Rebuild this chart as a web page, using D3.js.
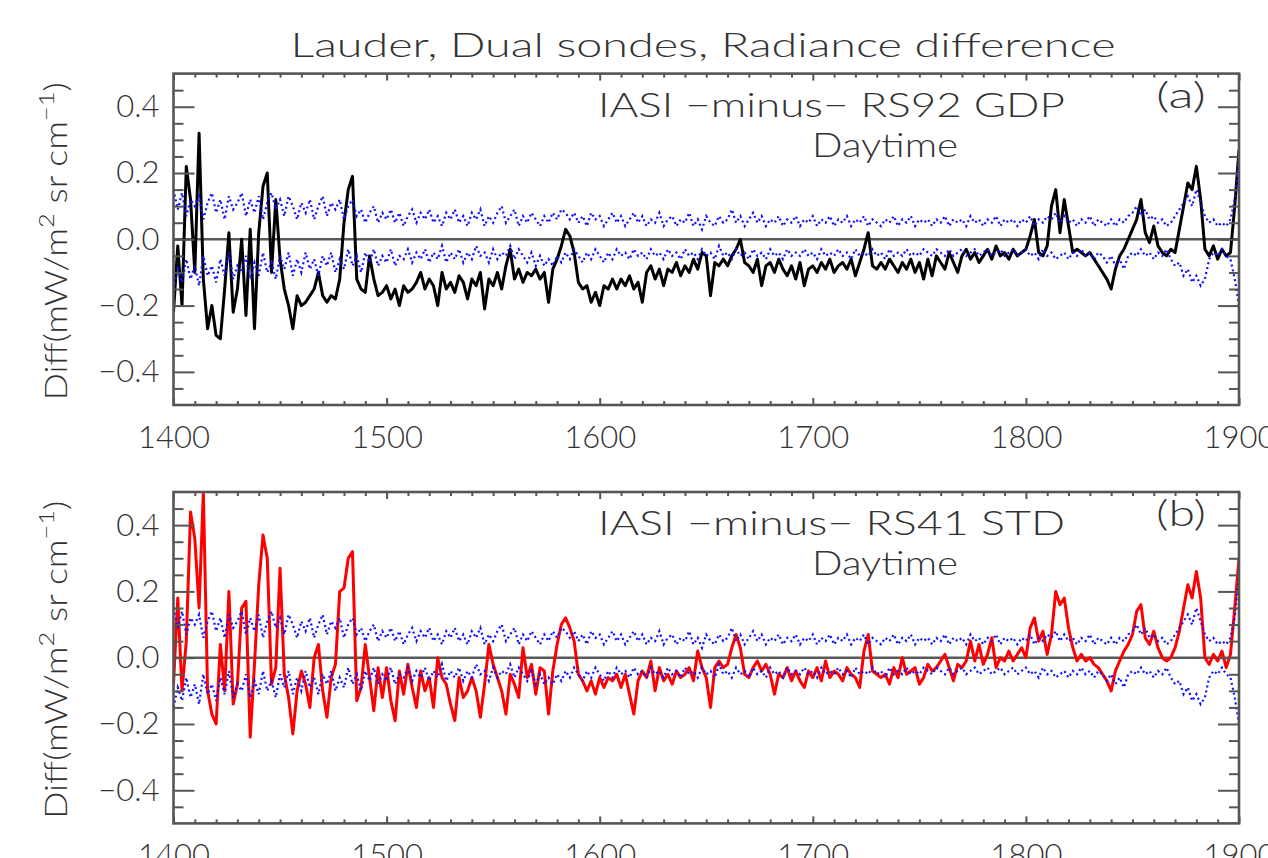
<!DOCTYPE html>
<html>
<head>
<meta charset="utf-8">
<script src="https://cdn.jsdelivr.net/npm/d3@7"></script>
<style>
  body { margin: 0; background: #fff; }
  svg text { font-family: "Lato", "DejaVu Sans", sans-serif; font-weight: 300; fill: #333; }
</style>
</head>
<body>
<div id="chart"></div>
<script>
// wavenumber grid (cm-1)
var wnStart = 1400, wnEnd = 1900;
var lineStep = 2;   // spacing of every series below
var xTicks = [1400, 1500, 1600, 1700, 1800, 1900];
var yTicks = [-0.4, -0.2, 0.0, 0.2, 0.4];
var titleText = "Lauder, Dual sondes, Radiance difference";

// IASI minus RS92 GDP, 1400..1900 every 2 cm-1 (one row = 20 cm-1)
var rs92Diff = [
  -0.22, -0.02, -0.20, 0.22, 0.12, -0.10, 0.32, -0.12, -0.27, -0.20,   // 1400
  -0.29, -0.30, -0.15, 0.02, -0.22, -0.15, 0.00, -0.23, 0.03, -0.27,   // 1420
  0.02, 0.16, 0.20, -0.10, 0.12, -0.06, -0.15, -0.20, -0.27, -0.17,    // 1440
  -0.20, -0.19, -0.17, -0.15, -0.10, -0.17, -0.19, -0.17, -0.18, -0.12, // 1460
  0.05, 0.15, 0.19, -0.12, -0.15, -0.16, -0.05, -0.12, -0.17, -0.16,   // 1480
  -0.14, -0.18, -0.15, -0.20, -0.14, -0.16, -0.15, -0.13, -0.10, -0.15, // 1500
  -0.12, -0.14, -0.20, -0.10, -0.15, -0.13, -0.16, -0.11, -0.13, -0.18, // 1520
  -0.12, -0.14, -0.10, -0.21, -0.12, -0.14, -0.10, -0.15, -0.08, -0.03, // 1540
  -0.12, -0.09, -0.13, -0.10, -0.11, -0.09, -0.12, -0.10, -0.19, -0.09, // 1560
  -0.06, -0.02, 0.03, 0.01, -0.04, -0.13, -0.15, -0.14, -0.19, -0.16,  // 1580
  -0.20, -0.14, -0.15, -0.12, -0.15, -0.12, -0.14, -0.11, -0.15, -0.13, // 1600
  -0.19, -0.10, -0.08, -0.12, -0.09, -0.14, -0.09, -0.10, -0.07, -0.11, // 1620
  -0.08, -0.10, -0.06, -0.09, -0.04, -0.05, -0.17, -0.07, -0.08, -0.06, // 1640
  -0.08, -0.05, -0.03, 0.00, -0.07, -0.08, -0.10, -0.06, -0.14, -0.08, // 1660
  -0.07, -0.10, -0.06, -0.09, -0.11, -0.08, -0.12, -0.07, -0.14, -0.09, // 1680
  -0.08, -0.10, -0.07, -0.09, -0.06, -0.10, -0.08, -0.07, -0.09, -0.06, // 1700
  -0.11, -0.07, -0.03, 0.02, -0.08, -0.09, -0.07, -0.09, -0.06, -0.08, // 1720
  -0.10, -0.07, -0.09, -0.06, -0.10, -0.07, -0.12, -0.06, -0.11, -0.05, // 1740
  -0.07, -0.09, -0.04, -0.07, -0.10, -0.05, -0.03, -0.06, -0.04, -0.07, // 1760
  -0.05, -0.03, -0.06, -0.02, -0.05, -0.04, -0.06, -0.03, -0.05, -0.04, // 1780
  -0.03, 0.01, 0.06, -0.04, -0.05, -0.02, 0.10, 0.15, 0.02, 0.12,      // 1800
  0.04, -0.04, -0.03, -0.04, -0.05, -0.04, -0.06, -0.08, -0.10, -0.12, // 1820
  -0.15, -0.09, -0.05, -0.03, 0.00, 0.03, 0.06, 0.12, 0.02, -0.01,     // 1840
  0.04, -0.02, -0.04, -0.05, -0.03, -0.04, 0.03, 0.10, 0.17, 0.15,     // 1860
  0.22, 0.12, -0.03, -0.05, -0.02, -0.06, -0.03, -0.05, -0.04, 0.10,   // 1880
  0.27                                                                 // 1900
];

// IASI minus RS41 STD, same grid
var rs41Diff = [
  -0.08, 0.18, -0.10, 0.05, 0.44, 0.36, 0.15, 0.50, -0.10, -0.17,      // 1400
  -0.20, 0.04, -0.10, 0.20, -0.14, -0.08, 0.15, 0.17, -0.24, -0.02,    // 1420
  0.22, 0.37, 0.30, -0.08, -0.03, 0.27, -0.05, -0.12, -0.23, -0.10,    // 1440
  -0.04, -0.08, -0.15, 0.00, 0.04, -0.10, -0.18, -0.06, -0.02, 0.20,   // 1460
  0.21, 0.30, 0.32, -0.13, -0.09, 0.04, -0.06, -0.16, -0.03, -0.12,    // 1480
  -0.03, -0.13, -0.19, -0.04, -0.11, -0.02, -0.09, -0.15, -0.04, -0.10, // 1500
  -0.06, -0.15, 0.00, -0.06, -0.08, -0.14, -0.19, -0.06, -0.12, -0.10, // 1520
  -0.06, -0.10, -0.18, -0.08, 0.04, -0.02, -0.06, -0.10, -0.17, -0.05, // 1540
  -0.08, -0.12, 0.03, -0.06, -0.02, -0.11, -0.03, -0.04, -0.17, -0.04, // 1560
  0.04, 0.10, 0.12, 0.09, 0.05, -0.05, -0.07, -0.10, -0.07, -0.11,     // 1580
  -0.06, -0.09, -0.06, -0.07, -0.05, -0.09, -0.05, -0.11, -0.17, -0.07, // 1600
  -0.04, -0.06, -0.01, -0.10, -0.03, -0.07, -0.05, -0.08, -0.04, -0.06, // 1620
  -0.05, -0.03, -0.07, 0.02, -0.03, -0.06, -0.15, -0.03, -0.01, -0.03, // 1640
  -0.02, 0.03, 0.07, 0.03, -0.05, -0.06, -0.03, -0.01, -0.04, -0.02,   // 1660
  -0.05, -0.11, -0.05, -0.06, -0.03, -0.07, -0.04, -0.07, -0.09, -0.04, // 1680
  -0.06, -0.03, -0.07, -0.01, -0.06, -0.04, -0.05, -0.07, -0.03, -0.05, // 1700
  -0.06, -0.09, 0.02, 0.07, -0.04, -0.05, -0.06, -0.05, -0.08, -0.03,  // 1720
  -0.06, 0.00, -0.05, -0.04, -0.03, -0.08, -0.06, -0.02, -0.04, -0.03, // 1740
  -0.01, 0.01, -0.03, -0.07, -0.02, -0.03, -0.01, 0.05, -0.01, 0.04,   // 1760
  -0.02, 0.01, 0.06, -0.03, 0.00, -0.01, 0.02, -0.01, 0.01, 0.03,      // 1780
  0.00, 0.09, 0.12, 0.05, 0.08, 0.01, 0.07, 0.20, 0.16, 0.18,          // 1800
  0.09, 0.03, -0.01, 0.01, -0.01, 0.00, -0.02, -0.03, -0.05, -0.07,    // 1820
  -0.10, -0.04, -0.01, 0.02, 0.04, 0.07, 0.14, 0.16, 0.06, 0.04,       // 1840
  0.08, 0.03, 0.00, -0.01, 0.00, 0.03, 0.08, 0.15, 0.22, 0.18,         // 1860
  0.26, 0.18, 0.00, -0.02, 0.01, -0.01, 0.02, -0.03, 0.01, 0.15,       // 1880
  0.30                                                                 // 1900
];

// blue dotted noise envelope, same grid
var bandUpper = [
  0.15, 0.09, 0.14, 0.07, 0.12, 0.10, 0.13, 0.06, 0.11, 0.14,   // 1400
  0.08, 0.12, 0.06, 0.13, 0.09, 0.11, 0.14, 0.07, 0.12, 0.08,   // 1420
  0.13, 0.06, 0.11, 0.14, 0.09, 0.12, 0.07, 0.13, 0.10, 0.06,   // 1440
  0.11, 0.08, 0.12, 0.06, 0.10, 0.13, 0.07, 0.11, 0.09, 0.12,   // 1460
  0.06, 0.10, 0.12, 0.07, 0.09, 0.05, 0.08, 0.10, 0.05, 0.08,   // 1480
  0.06, 0.09, 0.05, 0.08, 0.04, 0.07, 0.09, 0.05, 0.08, 0.06,   // 1500
  0.09, 0.05, 0.07, 0.04, 0.08, 0.06, 0.09, 0.05, 0.07, 0.04,   // 1520
  0.08, 0.06, 0.09, 0.04, 0.07, 0.05, 0.08, 0.10, 0.05, 0.07,   // 1540
  0.09, 0.04, 0.07, 0.05, 0.08, 0.06, 0.04, 0.07, 0.05, 0.08,   // 1560
  0.06, 0.09, 0.08, 0.06, 0.08, 0.05, 0.07, 0.04, 0.08, 0.06,   // 1580
  0.07, 0.04, 0.06, 0.08, 0.05, 0.07, 0.04, 0.06, 0.08, 0.05,   // 1600
  0.07, 0.04, 0.06, 0.05, 0.08, 0.04, 0.06, 0.07, 0.04, 0.06,   // 1620
  0.05, 0.08, 0.04, 0.06, 0.03, 0.07, 0.05, 0.04, 0.07, 0.05,   // 1640
  0.06, 0.09, 0.05, 0.07, 0.04, 0.06, 0.08, 0.05, 0.07, 0.04,   // 1660
  0.06, 0.05, 0.07, 0.04, 0.06, 0.05, 0.07, 0.04, 0.06, 0.05,   // 1680
  0.07, 0.04, 0.06, 0.05, 0.07, 0.04, 0.06, 0.05, 0.07, 0.04,   // 1700
  0.06, 0.05, 0.07, 0.04, 0.06, 0.05, 0.04, 0.06, 0.05, 0.07,   // 1720
  0.04, 0.06, 0.05, 0.07, 0.04, 0.06, 0.05, 0.06, 0.04, 0.06,   // 1740
  0.05, 0.07, 0.04, 0.06, 0.05, 0.06, 0.04, 0.07, 0.05, 0.06,   // 1760
  0.04, 0.06, 0.05, 0.07, 0.04, 0.06, 0.05, 0.06, 0.04, 0.06,   // 1780
  0.05, 0.07, 0.04, 0.06, 0.05, 0.07, 0.06, 0.08, 0.05, 0.07,   // 1800
  0.05, 0.06, 0.04, 0.06, 0.05, 0.07, 0.04, 0.06, 0.05, 0.04,   // 1820
  0.06, 0.04, 0.06, 0.05, 0.07, 0.08, 0.10, 0.07, 0.09, 0.06,   // 1840
  0.07, 0.05, 0.06, 0.04, 0.05, 0.07, 0.09, 0.11, 0.13, 0.10,   // 1860
  0.15, 0.11, 0.07, 0.05, 0.06, 0.04, 0.05, 0.04, 0.06, 0.12,   // 1880
  0.25                                                          // 1900
];
var bandLower = [
  -0.15, -0.09, -0.13, -0.06, -0.12, -0.08, -0.14, -0.05, -0.11, -0.08, // 1400
  -0.13, -0.06, -0.11, -0.04, -0.12, -0.08, -0.10, -0.05, -0.12, -0.07, // 1420
  -0.11, -0.04, -0.10, -0.07, -0.12, -0.05, -0.09, -0.04, -0.11, -0.06, // 1440
  -0.10, -0.04, -0.09, -0.06, -0.11, -0.05, -0.08, -0.04, -0.10, -0.06, // 1460
  -0.09, -0.03, -0.08, -0.05, -0.10, -0.04, -0.07, -0.03, -0.08, -0.05, // 1480
  -0.07, -0.03, -0.08, -0.05, -0.06, -0.03, -0.07, -0.04, -0.06, -0.03, // 1500
  -0.07, -0.04, -0.06, -0.02, -0.07, -0.04, -0.06, -0.03, -0.07, -0.04, // 1520
  -0.06, -0.02, -0.05, -0.04, -0.07, -0.03, -0.06, -0.04, -0.05, -0.02, // 1540
  -0.06, -0.03, -0.05, -0.07, -0.04, -0.08, -0.05, -0.08, -0.06, -0.08, // 1560
  -0.05, -0.07, -0.04, -0.06, -0.03, -0.05, -0.07, -0.04, -0.06, -0.03, // 1580
  -0.05, -0.07, -0.04, -0.06, -0.03, -0.05, -0.04, -0.06, -0.03, -0.05, // 1600
  -0.04, -0.06, -0.03, -0.05, -0.04, -0.06, -0.03, -0.05, -0.04, -0.06, // 1620
  -0.03, -0.05, -0.04, -0.06, -0.03, -0.05, -0.04, -0.06, -0.02, -0.05, // 1640
  -0.04, -0.06, -0.03, -0.05, -0.04, -0.06, -0.03, -0.05, -0.04, -0.06, // 1660
  -0.03, -0.05, -0.04, -0.06, -0.03, -0.05, -0.04, -0.05, -0.03, -0.05, // 1680
  -0.04, -0.06, -0.03, -0.05, -0.04, -0.05, -0.03, -0.05, -0.04, -0.06, // 1700
  -0.03, -0.05, -0.04, -0.05, -0.03, -0.05, -0.04, -0.06, -0.03, -0.05, // 1720
  -0.04, -0.05, -0.03, -0.05, -0.04, -0.05, -0.03, -0.04, -0.05, -0.03, // 1740
  -0.04, -0.05, -0.03, -0.05, -0.04, -0.03, -0.05, -0.04, -0.03, -0.05, // 1760
  -0.04, -0.03, -0.05, -0.04, -0.03, -0.05, -0.04, -0.03, -0.05, -0.04, // 1780
  -0.03, -0.05, -0.04, -0.06, -0.03, -0.05, -0.04, -0.06, -0.05, -0.04, // 1800
  -0.06, -0.04, -0.05, -0.03, -0.05, -0.04, -0.06, -0.04, -0.05, -0.07, // 1820
  -0.05, -0.08, -0.06, -0.09, -0.05, -0.04, -0.05, -0.03, -0.05, -0.04, // 1840
  -0.06, -0.04, -0.05, -0.03, -0.06, -0.08, -0.07, -0.11, -0.09, -0.13, // 1860
  -0.11, -0.14, -0.12, -0.06, -0.04, -0.05, -0.03, -0.05, -0.06, -0.12, // 1880
  -0.20                                                                 // 1900
];

class DiffPanel {
  constructor(svg, top, series, color, sondeText, tag) {
    this.svg = svg;
    this.top = top;
    this.series = series;
    this.color = color;
    this.sondeText = sondeText;
    this.tag = tag;
    this.left = 173.5;
    this.width = 1065.5;
    this.height = 331.4;
    this.draw();
  }

  draw() {
    this.x = d3.scaleLinear().domain([wnStart, wnEnd]).range([0, this.width]);
    this.y = d3.scaleLinear().domain([-0.5, 0.5]).range([this.height, 0]);

    this.plot = this.svg.append("g")
      .attr("transform", "translate(" + this.left + "," + this.top + ")");

    var clipId = "clip-" + this.tag;
    this.plot.append("clipPath").attr("id", clipId)
      .append("rect").attr("width", this.width).attr("height", this.height);
    this.inner = this.plot.append("g").attr("clip-path", "url(#" + clipId + ")");

    this.plotLines();
    this.createAxes();
    this.addLabels();
  }

  plotLines() {
    var x = this.x, y = this.y;

    this.inner.append("line")
      .attr("x1", 0).attr("x2", this.width)
      .attr("y1", y(0)).attr("y2", y(0))
      .attr("stroke", "#5a5a5a").attr("stroke-width", 2.6);

    var wnLine = d3.line()
      .x((d, i) => x(wnStart + i * lineStep))
      .y(d => y(d));

    this.inner.append("path")
      .datum(this.series)
      .attr("d", wnLine)
      .attr("fill", "none")
      .attr("stroke", this.color)
      .attr("stroke-width", 3)
      .attr("stroke-linejoin", "round");

    // noise envelope drawn dotted on top
    [bandUpper, bandLower].forEach(band => {
      this.inner.append("path")
        .datum(band)
        .attr("d", wnLine)
        .attr("fill", "none")
        .attr("stroke", "#1010ff")
        .attr("stroke-width", 2.2)
        .attr("stroke-dasharray", "2,3");
    });
  }

  createAxes() {
    var xMinor = d3.range(wnStart, wnEnd + 1, 10).filter(d => d % 100 !== 0);
    var yMinor = d3.range(-45, 50, 5).filter(d => d % 20 !== 0).map(d => d / 100);

    // x axes, ticks pointing into the box
    this.plot.append("g")
      .attr("class", "axis")
      .attr("transform", "translate(0," + this.height + ")")
      .call(d3.axisBottom(this.x).tickValues(xTicks).tickSizeInner(-7).tickSizeOuter(0)
        .tickPadding(21).tickFormat(d3.format("d")));
    this.plot.append("g")
      .attr("class", "axis")
      .attr("transform", "translate(0," + this.height + ")")
      .call(d3.axisBottom(this.x).tickValues(xMinor).tickSizeInner(-4).tickSizeOuter(0).tickFormat(""));
    this.plot.append("g")
      .attr("class", "axis")
      .call(d3.axisTop(this.x).tickValues(xTicks).tickSizeInner(-7).tickSizeOuter(0).tickFormat(""));
    this.plot.append("g")
      .attr("class", "axis")
      .call(d3.axisTop(this.x).tickValues(xMinor).tickSizeInner(-4).tickSizeOuter(0).tickFormat(""));

    // y axes
    this.plot.append("g")
      .attr("class", "axis")
      .call(d3.axisLeft(this.y).tickValues(yTicks).tickSizeInner(-21).tickSizeOuter(0)
        .tickPadding(14).tickFormat(d3.format(".1f")));
    this.plot.append("g")
      .attr("class", "axis")
      .call(d3.axisLeft(this.y).tickValues(yMinor).tickSizeInner(-10).tickSizeOuter(0).tickFormat(""));
    this.plot.append("g")
      .attr("class", "axis")
      .attr("transform", "translate(" + this.width + ",0)")
      .call(d3.axisRight(this.y).tickValues(yTicks).tickSizeInner(-21).tickSizeOuter(0).tickFormat(""));
    this.plot.append("g")
      .attr("class", "axis")
      .attr("transform", "translate(" + this.width + ",0)")
      .call(d3.axisRight(this.y).tickValues(yMinor).tickSizeInner(-10).tickSizeOuter(0).tickFormat(""));

    this.plot.selectAll(".axis .domain").remove();
    this.plot.selectAll(".axis line").attr("stroke", "#555").attr("stroke-width", 2);
    this.plot.selectAll(".axis text")
      .style("font-size", "31px")
      .attr("fill", "#3a3a3a");

    this.plot.append("rect")
      .attr("width", this.width).attr("height", this.height)
      .attr("fill", "none").attr("stroke", "#555").attr("stroke-width", 2.6);
  }

  addLabels() {
    var ylab = this.plot.append("text")
      .attr("transform", "translate(" + (67 - this.left) + "," + (this.height / 2 + 2) + ") rotate(-90)")
      .attr("text-anchor", "middle")
      .attr("textLength", 318).attr("lengthAdjust", "spacingAndGlyphs")
      .style("font-size", "31px");
    ylab.append("tspan").text("Diff(mW/m");
    ylab.append("tspan").attr("dy", -13).style("font-size", "22px").text("2");
    ylab.append("tspan").attr("dy", 13).text(" sr cm");
    ylab.append("tspan").attr("dy", -13).style("font-size", "22px").text("\u22121");
    ylab.append("tspan").attr("dy", 13).text(")");

    this.plot.append("text")
      .attr("x", 831.5 - this.left).attr("y", 43)
      .attr("text-anchor", "middle")
      .attr("textLength", 467).attr("lengthAdjust", "spacingAndGlyphs")
      .style("font-size", "34px")
      .text(this.sondeText);
    this.plot.append("text")
      .attr("x", 885 - this.left).attr("y", 83)
      .attr("text-anchor", "middle")
      .attr("textLength", 146).attr("lengthAdjust", "spacingAndGlyphs")
      .style("font-size", "34px")
      .text("Daytime");
    this.plot.append("text")
      .attr("x", 1181 - this.left).attr("y", 34)
      .attr("text-anchor", "middle")
      .attr("textLength", 50).attr("lengthAdjust", "spacingAndGlyphs")
      .style("font-size", "36px")
      .text("(" + this.tag + ")");
  }
}

var svg = d3.select("#chart").append("svg")
  .attr("width", 1268)
  .attr("height", 858)
  .style("background", "#fff");

svg.append("text")
  .attr("x", 703).attr("y", 57)
  .attr("text-anchor", "middle")
  .attr("textLength", 825).attr("lengthAdjust", "spacingAndGlyphs")
  .style("font-size", "34px")
  .text(titleText);

new DiffPanel(svg, 73.6, rs92Diff, "#000000", "IASI \u2212minus\u2212 RS92 GDP", "a");
new DiffPanel(svg, 492, rs41Diff, "#ff0000", "IASI \u2212minus\u2212 RS41 STD", "b");
</script>
</body>
</html>
